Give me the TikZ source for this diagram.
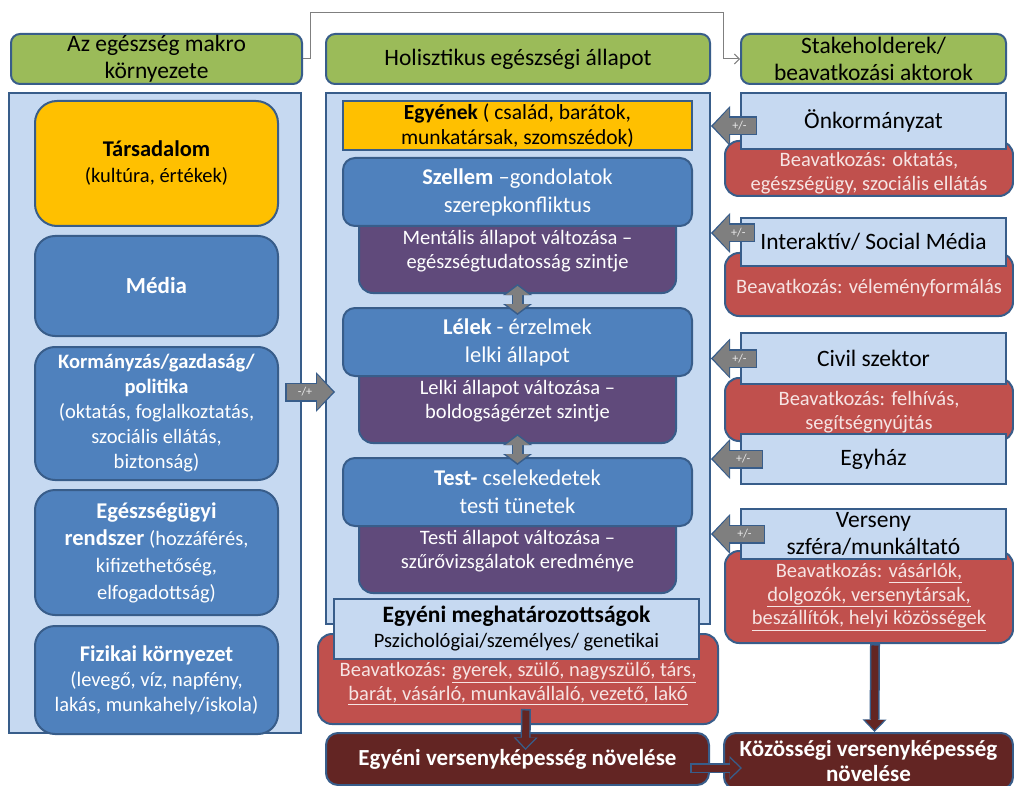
\documentclass[tikz,border=0pt]{standalone}
\usepackage{fontspec}
\setmainfont{Carlito}
\usetikzlibrary{positioning,arrows.meta}

\definecolor{bordc}{HTML}{385D8A}
\definecolor{hdrgreen}{HTML}{9BBB59}
\definecolor{panelblue}{HTML}{C6D9F1}
\definecolor{boxblue}{HTML}{4F81BD}
\definecolor{orangec}{HTML}{FFC000}
\definecolor{purp}{HTML}{604A7B}
\definecolor{redc}{HTML}{C0504D}
\definecolor{redtext}{HTML}{F6E4E3}
\definecolor{maroonc}{HTML}{632523}
\definecolor{arrgray}{HTML}{7F7F7F}

\begin{document}
\begin{tikzpicture}[x=1pt,y=-1pt,
    box/.style={draw=bordc, line width=2pt, inner sep=0pt, align=center, anchor=north west},
    hdr/.style={box, fill=hdrgreen, rounded corners=9pt, font=\fontsize{23.5}{27}\selectfont},
    panel/.style={box, fill=panelblue},
    lbox/.style={box, fill=boxblue, rounded corners=20pt, text=white, minimum width=243, font=\fontsize{20.5}{26}\selectfont},
    cbox/.style={box, fill=boxblue, rounded corners=12pt, text=white, minimum width=349, minimum height=68, font=\fontsize{22.5}{28}\selectfont},
    pbox/.style={box, fill=purp, rounded corners=14pt, text=white, minimum width=317, minimum height=84, font=\fontsize{20.5}{24}\selectfont},
    sbox/.style={box, fill=panelblue, minimum width=265, font=\fontsize{23.5}{27}\selectfont},
    rbox/.style={box, fill=redc, rounded corners=14pt, text=redtext, minimum width=288, font=\fontsize{20.5}{23.5}\selectfont},
    mbox/.style={box, fill=maroonc, rounded corners=12pt, text=white, font=\bfseries\fontsize{23}{25}\selectfont},
    pmarr/.style={draw=arrgray, line width=16pt, shorten <=1.5pt, shorten >=2pt,
      -{Triangle[length=16pt,width=35pt,line width=0pt]},
      preaction={draw=bordc, line width=19pt, shorten <=0pt, shorten >=0pt,
        -{Triangle[length=19pt,width=40pt,line width=0pt]}}},
    pmlab/.style={text=white!92!black, inner sep=0pt, font=\fontsize{12}{12}\selectfont},
    dblarr/.style={draw=arrgray, line width=9pt, shorten <=2pt, shorten >=2pt,
      {Triangle[length=9pt,width=24pt,line width=0pt]}-{Triangle[length=9pt,width=24pt,line width=0pt]},
      preaction={draw=bordc, line width=12pt, shorten <=0pt, shorten >=0pt,
        {Triangle[length=11pt,width=29pt,line width=0pt]}-{Triangle[length=11pt,width=29pt,line width=0pt]}}},
    brarr/.style={draw=maroonc, line width=7pt, shorten <=1.5pt, shorten >=2pt,
      -{Triangle[length=10pt,width=19pt,line width=0pt]},
      preaction={draw=bordc, line width=10pt, shorten <=0pt, shorten >=0pt,
        -{Triangle[length=12.5pt,width=24pt,line width=0pt]}}},
    conn/.style={draw=arrgray, line width=1pt, -{Straight Barb[length=5pt,width=10pt]}}]
  \useasboundingbox (0,0) rectangle (1014,786);

  % headers
  \node[hdr, minimum width=291, minimum height=50] (hl) at (10,33) {Az egészség makro\\környezete};
  \node[hdr, minimum width=384, minimum height=50] (hc) at (325,33) {Holisztikus egészségi állapot};
  \node[hdr, minimum width=265, minimum height=50] (hr) at (740,33) {Stakeholderek/\\beavatkozási aktorok};
  \draw[conn] (hl.east) -- ++(7,0) -- ++(0,-46) -| ([xshift=-17pt]hr.west) -- (hr.west);

  % makro kornyezet
  \node[panel, minimum width=292, minimum height=640] (lp) at (8,92) {};
  \node[lbox, fill=orangec, text=black, rounded corners=22pt, minimum height=125] (tars) at (34,100)
    {{\bfseries\fontsize{22.5}{28}\selectfont Társadalom}\\(kultúra, értékek)};
  \node[lbox, minimum height=100, below=8pt of tars] (media) {{\bfseries\fontsize{23}{27}\selectfont Média}};
  \node[lbox, minimum height=133, below=9pt of media, font=\fontsize{20.5}{25}\selectfont] (korm)
    {\textbf{Kormányzás/gazdaság/}\\\textbf{politika}\\(oktatás, foglalkoztatás,\\szociális ellátás,\\biztonság)};
  \node[lbox, minimum height=125, below=8pt of korm, font=\fontsize{20.5}{27}\selectfont] (eg)
    {{\bfseries\fontsize{22.5}{27}\selectfont Egészségügyi}\\{\bfseries\fontsize{22.5}{27}\selectfont rendszer} (hozzáférés,\\kifizethetőség,\\elfogadottság)};
  \node[lbox, minimum height=108, below=9pt of eg, font=\fontsize{20.5}{25}\selectfont] (fiz)
    {{\bfseries\fontsize{22.5}{27}\selectfont Fizikai környezet}\\(levegő, víz, napfény,\\lakás, munkahely/iskola)};

  % holisztikus allapot
  \node[panel, minimum width=384, minimum height=531] (cp) at (325,92) {};
  \node[box, fill=orangec, minimum width=349, minimum height=49, font=\fontsize{21.5}{25}\selectfont] (egy) at (342,100)
    {\textbf{Egyének} ( család, barátok,\\munkatársak, szomszédok)};
  \node[pbox] (sz2) at (358,208) {Mentális állapot változása –\\egészségtudatosság szintje};
  \node[cbox] (sz1) at (342,157) {\textbf{Szellem} –gondolatok\\szerepkonfliktus};
  \node[pbox] (le2) at (358,358) {Lelki állapot változása –\\boldogságérzet szintje};
  \node[cbox] (le1) at (342,307) {\textbf{Lélek} - érzelmek\\lelki állapot};
  \node[pbox] (te2) at (358,508) {Testi állapot változása –\\szűrővizsgálatok eredménye};
  \node[cbox] (te1) at (342,457) {\textbf{Test-} cselekedetek\\testi tünetek};
  \draw[dblarr] ([yshift=10pt]sz2.south) -- ([yshift=-8pt]le1.north);
  \draw[dblarr] ([yshift=10pt]le2.south) -- ([yshift=-8pt]te1.north);

  \node[rbox, minimum width=400, minimum height=90] (indr) at (317,633)
    {\rule{0pt}{24pt}Beavatkozás: \underline{gyerek, szülő, nagyszülő, társ,}\\\underline{barát, vásárló, munkavállaló, vezető, lakó}};
  \node[box, fill=panelblue, minimum width=365, minimum height=60, font=\fontsize{20.5}{25}\selectfont] (egym) at (333,598)
    {{\bfseries\fontsize{23.5}{27}\selectfont Egyéni meghatározottságok}\\Pszichológiai/személyes/ genetikai};
  \node[mbox, minimum width=383, minimum height=52] (egyv) at (325,732) {Egyéni versenyképesség növelése};
  \draw[brarr] ([xshift=8pt,yshift=16pt]indr.south) -- ([xshift=8pt,yshift=-18pt]egyv.north);

  \draw[pmarr] ([xshift=-17pt,yshift=21pt]lp.east) -- ([xshift=10pt,yshift=-33.5pt]cp.west) node[pmlab, pos=0.4] {-/+};

  % stakeholderek
  \node[rbox, minimum height=55] (onkr) at (724,140) {\rule{0pt}{24pt}Beavatkozás: oktatás,\\egészségügy, szociális ellátás};
  \node[sbox, minimum height=56] (onk) at (740,92) {Önkormányzat};
  \node[rbox, minimum height=63] (intr) at (724,252) {\rule{0pt}{22pt}Beavatkozás: véleményformálás};
  \node[sbox, minimum height=48] (int) at (740,217) {Interaktív/ Social Média};
  \node[rbox, minimum height=63] (civr) at (724,377) {\rule{0pt}{20pt}Beavatkozás: felhívás,\\segítségnyújtás};
  \node[sbox, minimum height=51] (civ) at (740,332) {Civil szektor};
  \node[sbox, minimum height=50] (egyh) at (740,433) {Egyház};
  \node[rbox, minimum height=92] (versr) at (724,550)
    {Beavatkozás: \underline{vásárlók,}\\\underline{dolgozók, versenytársak,}\\\underline{beszállítók, helyi közösségek}};
  \node[sbox, minimum height=50] (vers) at (740,508) {Verseny\\szféra/munkáltató};
  \node[mbox, minimum width=289, minimum height=56] (kozos) at (723,732) {Közösségi versenyképesség\\növelése};

  \coordinate (t1) at ([xshift=17pt,yshift=-5pt]onk.west);
  \coordinate (t2) at ([xshift=15pt,yshift=9pt]int.west);
  \coordinate (t3) at ([xshift=17pt]civ.west);
  \coordinate (t4) at ([xshift=23pt]egyh.west);
  \coordinate (t5) at ([xshift=25pt]vers.west);
  \draw[pmarr] (t1) -- (t1 -| cp.east) node[pmlab, pos=0.38] {+/-};
  \draw[pmarr] (t2) -- (t2 -| cp.east) node[pmlab, pos=0.38] {+/-};
  \draw[pmarr] (t3) -- (t3 -| cp.east) node[pmlab, pos=0.38] {+/-};
  \draw[pmarr] (t4) -- (t4 -| cp.east) node[pmlab, pos=0.38] {+/-};
  \draw[pmarr] (t5) -- (t5 -| cp.east) node[pmlab, pos=0.38] {+/-};

  \draw[brarr] ([xshift=6pt]versr.south) -- ([xshift=6pt]kozos.north);
  \draw[brarr] ([xshift=-20pt,yshift=-9pt]egyv.east) -- ([xshift=19pt,yshift=-7pt]kozos.west);
\end{tikzpicture}
\end{document}
